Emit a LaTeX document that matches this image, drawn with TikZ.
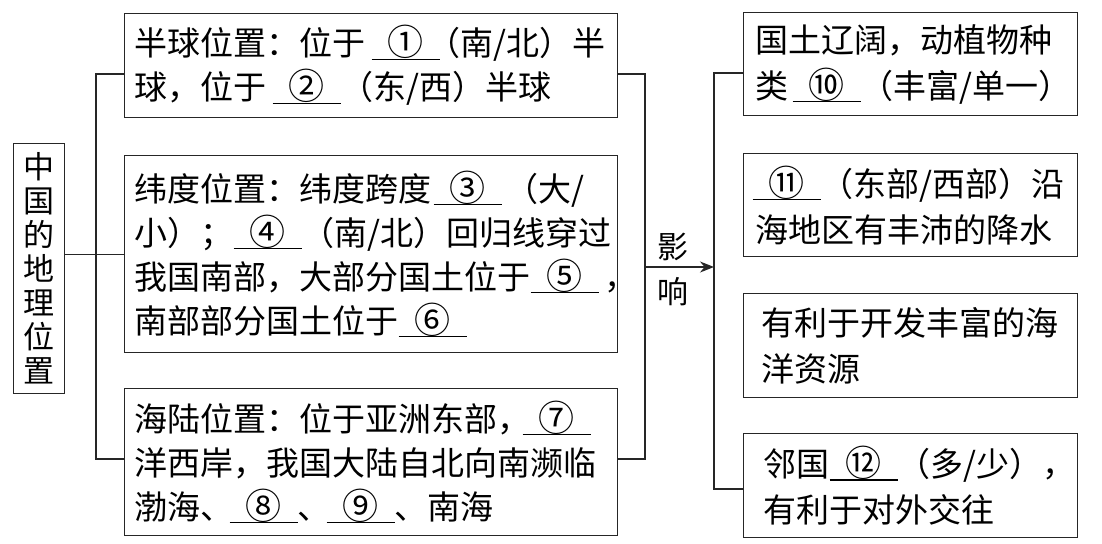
\documentclass[tikz,border=0pt]{standalone}
\usepackage{fontspec}
\setmainfont{Noto Sans CJK SC}
\usetikzlibrary{arrows.meta}
\newcommand{\bl}[1]{\makebox[68pt]{\fontsize{36pt}{36pt}\selectfont #1}\llap{\rule[-4pt]{68pt}{1.1pt}}}
\newcommand{\tline}[1]{\mbox{#1}}
\tikzset{
  conn/.style={line width=1.3pt, draw=black!85},
  lbox/.style={draw=black!85, line width=1.3pt, anchor=north west, align=left,
    inner xsep=10pt, inner ysep=0pt, text width=473pt,
    font=\fontsize{33pt}{44pt}\selectfont},
  rbox/.style={draw=black!85, line width=1.3pt, anchor=north west, align=left,
    inner xsep=12pt, inner ysep=0pt, text width=310pt,
    font=\fontsize{33pt}{46pt}\selectfont},
  vbox/.style={draw=black!85, line width=1.3pt, anchor=north west, align=center,
    inner sep=0pt, minimum width=51pt, minimum height=250pt,
    font=\fontsize{31pt}{34pt}\selectfont},
  lbl/.style={inner sep=0pt, font=\fontsize{31pt}{31pt}\selectfont}
}
\begin{document}
\begin{tikzpicture}[x=1pt,y=-1pt]
\path[use as bounding box, fill=white] (0,0) rectangle (1102,543);

\node[vbox] (lb) at (13,143) {中\\国\\的\\地\\理\\位\\置};

\node[lbox, minimum height=104pt] (b1) at (124,13)
  {\tline{半球位置：位于\hspace{6pt}\bl{①}\hspace{-12pt}（南/北）半}\\
   \tline{球，位于\hspace{6pt}\bl{②}（东/西）半球}};
\node[lbox, minimum height=197pt] (b2) at (124,155)
  {\tline{纬度位置：纬度跨度\hspace{2pt}\bl{③}\hspace{4pt}（大/}\\
   \tline{小）；\bl{④}（南/北）回归线穿过}\\
   \tline{我国南部，大部分国土位于\bl{⑤}\hspace{6pt}，}\\
   \tline{南部部分国土位于\bl{⑥}}};
\node[lbox, minimum height=147pt] (b3) at (124,388)
  {\tline{海陆位置：位于亚洲东部，\hspace{-8pt}\bl{⑦}}\\
   \tline{洋西岸，我国大陆自北向南濒临}\\
   \tline{渤海、\hspace{-4pt}\bl{⑧}、\hspace{-4pt}\bl{⑨}、南海}};

\node[rbox, minimum height=103pt] (ra) at (743,12)
  {\tline{国土辽阔，动植物种}\\
   \tline{类\hspace{4pt}\bl{⑩}（丰富/单一）}};
\node[rbox, minimum height=103pt] (rb) at (743,153)
  {\tline{\hspace{-3pt}\bl{⑪}（东部/西部）沿}\\
   \tline{海地区有丰沛的降水}};
\node[rbox, minimum height=104pt] (rc) at (743,293)
  {\tline{\hspace{6pt}有利于开发丰富的海}\\
   \tline{\hspace{6pt}洋资源}};
\node[rbox, minimum height=104pt] (rd) at (743,433)
  {\tline{\hspace{8pt}邻国\bl{⑫}（多/少），}\\
   \tline{\hspace{8pt}有利于对外交往}};

\node[lbl] (y1) at (673,247) {影};
\node[lbl] (y2) at (673,292) {响};

\coordinate (L1) at (96,74);
\coordinate (L2) at (96,459);
\draw[conn] (b1.west |- L1) -- (L1) -- (L2) -- (b3.west |- L2);
\draw[conn] (lb.east |- b2.west) -- (b2.west);

\coordinate (R1) at (645,74);
\coordinate (R2) at (645,459);
\draw[conn] (b1.east |- R1) -- (R1) -- (R2) -- (b3.east |- R2);

\coordinate (S1) at (714,73);
\coordinate (S2) at (714,489);
\coordinate (A0) at (645,267);
\draw[conn, -{Stealth[length=14pt,width=11pt]}] (A0) -- (A0 -| S1);
\draw[conn] (ra.west |- S1) -- (S1) -- (S2) -- (rd.west |- S2);
\end{tikzpicture}
\end{document}
